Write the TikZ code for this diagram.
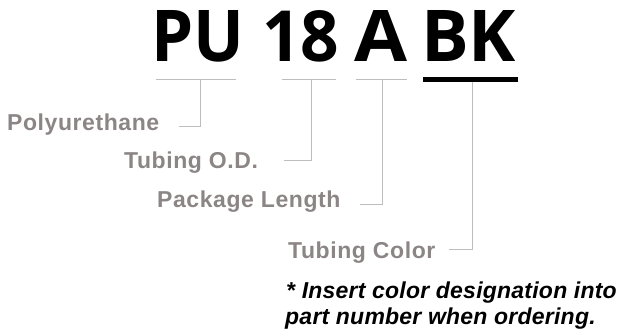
\documentclass[tikz,border=0pt]{standalone}
\usepackage{fontspec}
\setmainfont{Liberation Sans}
\newfontfamily\titlefont{Open Sans}
\newfontfamily\lblfont[LetterSpace=2.5]{Liberation Sans}
\newfontfamily\notefont[LetterSpace=1]{Liberation Sans}
\definecolor{lblgray}{HTML}{8B8685}
\definecolor{linegray}{HTML}{BDBDBD}
\tikzset{
  tok/.style={anchor=base west, inner sep=0pt, outer sep=0pt},
  lbl/.style={anchor=base west, inner sep=0pt, text=lblgray, font=\lblfont\bfseries\fontsize{23}{27}\selectfont},
  note/.style={anchor=base west, inner sep=0pt, text=black, font=\notefont\bfseries\itshape\fontsize{23}{27}\selectfont},
  conn/.style={draw=linegray, line width=0.9pt},
  uline/.style={draw=linegray, line width=0.9pt},
  ulinek/.style={draw=black, line width=4.8pt}
}
\begin{document}
\begin{tikzpicture}[x=1pt,y=1pt]
\useasboundingbox (0,0) rectangle (624,334);
% title tokens
\node[tok] (pu) at (151,272) {\resizebox{93pt}{51pt}{\titlefont\bfseries PU}};
\node[tok] (od) at (262,272) {\resizebox{77pt}{51pt}{\titlefont\bfseries 18}};
\node[tok] (ln) at (354,272) {\resizebox{53pt}{51pt}{\titlefont\bfseries A}};
\node[tok] (bk) at (421,272) {\resizebox{95pt}{51pt}{\titlefont\bfseries BK}};
% underline coordinates
\coordinate (u1a) at (156,255); \coordinate (u1b) at (236,255);
\coordinate (u2a) at (282,255); \coordinate (u2b) at (336,255);
\coordinate (u3a) at (356,255); \coordinate (u3b) at (407,255);
\coordinate (u4a) at (423,254.5); \coordinate (u4b) at (518,254.5);
\draw[uline] (u1a) -- (u1b);
\draw[uline] (u2a) -- (u2b);
\draw[uline] (u3a) -- (u3b);
\draw[ulinek] (u4a) -- (u4b);
% labels
\node[lbl] (l1) at (7,203) {Polyurethane};
\node[lbl] (l2) at (124,165) {Tubing O.D.};
\node[lbl] (l3) at (157,126) {Package Length};
\node[lbl] (l4) at (288,75) {Tubing Color};
\node[note] (n1) at (286,35) {* Insert color designation into};
\node[note] (n2) at (285,9) {part number when ordering.};
% connectors
\coordinate (t1) at (200,255); \coordinate (e1) at (179,208);
\coordinate (t2) at (311,255); \coordinate (e2) at (284,174);
\coordinate (t3) at (382,255); \coordinate (e3) at (360,130);
\coordinate (t4) at (472,252); \coordinate (e4) at (449,85);
\draw[conn] (t1) |- (e1);
\draw[conn] (t2) |- (e2);
\draw[conn] (t3) |- (e3);
\draw[conn] (t4) |- (e4);
\end{tikzpicture}
\end{document}
